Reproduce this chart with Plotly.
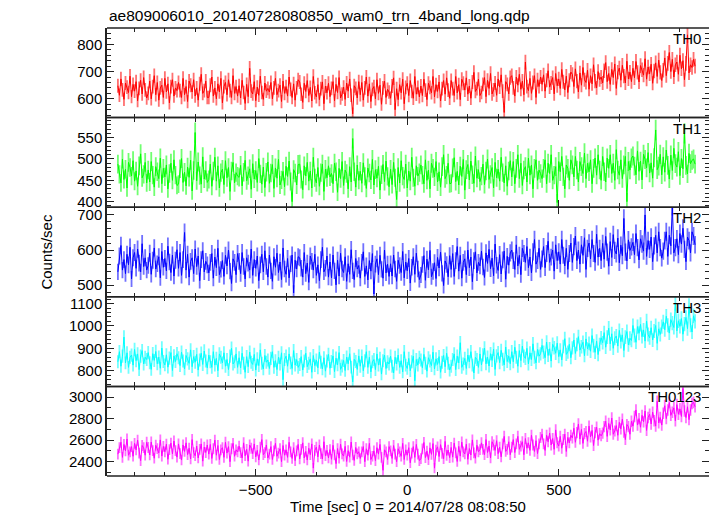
import numpy as np
import plotly.graph_objects as go
from plotly.subplots import make_subplots

title_text = "ae809006010_20140728080850_wam0_trn_4band_long.qdp"
band_names = ["TH0", "TH1", "TH2", "TH3", "TH0123"]
band_colors = ["#ff0000", "#00ff00", "#0000ff", "#00ffff", "#ff00ff"]
err_colors = ["#ff7070", "#70ff70", "#7070ff", "#70ffff", "#ff70ff"]

t_start = -955
bin_width = 5
n_bins = 382
time_s = t_start + bin_width * np.arange(n_bins)

th0 = [
    648, 613, 673, 633, 598, 658, 643, 623, 683, 608, 653, 628, 663, 593, 638, 668, 618, 678, 633, 603,
    620, 665, 600, 645, 685, 615, 660, 595, 640, 650, 605, 675, 625, 655, 585, 645, 670, 610, 640, 630,
    660, 630, 605, 675, 615, 645, 590, 665, 650, 625, 670, 610, 640, 595, 655, 690, 620, 630, 665, 605,
    605, 650, 680, 610, 640, 600, 655, 625, 675, 585, 645, 660, 615, 670, 630, 605, 685, 620, 645, 610,
    648, 603, 668, 623, 583, 653, 608, 712, 628, 618, 663, 593, 643, 613, 683, 623, 598, 658, 628, 638,
    625, 660, 600, 640, 675, 615, 630, 650, 590, 665, 620, 645, 610, 680, 635, 605, 655, 595, 640, 670,
    662, 617, 587, 657, 627, 667, 612, 642, 592, 682, 622, 607, 652, 597, 637, 662, 582, 647, 622, 657,
    608, 638, 663, 593, 653, 623, 678, 603, 618, 643, 598, 658, 628, 673, 613, 545, 648, 638, 603, 663,
    615, 660, 595, 640, 680, 610, 655, 590, 635, 645, 600, 670, 620, 650, 580, 640, 665, 605, 635, 625,
    602, 647, 677, 560, 637, 597, 652, 622, 672, 582, 642, 657, 612, 667, 627, 602, 682, 617, 642, 607,
    647, 612, 672, 632, 597, 657, 642, 622, 682, 607, 652, 627, 662, 592, 637, 667, 617, 677, 632, 602,
    667, 637, 612, 682, 622, 652, 597, 672, 657, 632, 677, 617, 647, 602, 662, 697, 627, 637, 672, 612,
    623, 653, 678, 608, 668, 638, 693, 618, 633, 658, 613, 673, 643, 688, 628, 550, 663, 653, 618, 678,
    685, 640, 610, 680, 650, 690, 635, 665, 615, 735, 645, 630, 675, 620, 660, 685, 605, 670, 645, 680,
    653, 688, 628, 668, 703, 643, 658, 678, 618, 693, 648, 673, 638, 708, 663, 633, 683, 623, 668, 698,
    690, 645, 710, 665, 625, 695, 650, 715, 670, 660, 705, 635, 685, 655, 725, 665, 640, 700, 670, 680,
    658, 703, 733, 663, 693, 653, 708, 678, 728, 638, 698, 713, 668, 723, 683, 658, 738, 673, 698, 663,
    712, 677, 737, 697, 662, 722, 707, 687, 747, 672, 717, 692, 727, 657, 702, 732, 682, 742, 697, 667,
    705, 750, 685, 730, 770, 700, 745, 680, 725, 735, 690, 760, 710, 740, 670, 730, 835, 695, 725, 715,
    745, 720,
]
th1 = [
    488, 464, 444, 500, 452, 476, 432, 492, 480, 460, 496, 448, 472, 436, 484, 512, 456, 464, 492, 444,
    474, 446, 494, 462, 434, 482, 470, 454, 502, 442, 478, 458, 486, 430, 466, 490, 450, 498, 462, 438,
    441, 477, 501, 445, 469, 437, 481, 457, 497, 425, 473, 562, 449, 493, 461, 441, 505, 453, 473, 445,
    452, 488, 436, 472, 504, 448, 484, 432, 468, 476, 440, 496, 456, 480, 424, 472, 492, 444, 468, 460,
    457, 485, 437, 469, 497, 449, 461, 477, 429, 489, 453, 473, 445, 501, 465, 441, 481, 433, 469, 493,
    443, 467, 487, 431, 479, 455, 499, 439, 451, 471, 435, 483, 459, 495, 447, 400, 475, 467, 439, 487,
    488, 452, 428, 484, 460, 492, 448, 472, 432, 504, 456, 444, 480, 436, 468, 488, 424, 476, 456, 484,
    458, 466, 442, 490, 470, 422, 478, 454, 494, 438, 474, 466, 430, 482, 446, 548, 470, 434, 486, 450,
    471, 443, 491, 459, 431, 479, 467, 451, 499, 439, 475, 455, 483, 427, 463, 487, 447, 495, 459, 435,
    476, 440, 492, 456, 405, 480, 444, 496, 460, 452, 488, 432, 472, 448, 504, 456, 436, 484, 460, 468,
    486, 462, 442, 498, 450, 474, 430, 490, 478, 458, 494, 446, 470, 434, 482, 510, 454, 462, 490, 442,
    443, 479, 503, 447, 471, 439, 483, 459, 499, 427, 475, 487, 451, 495, 463, 443, 507, 455, 475, 447,
    460, 488, 440, 472, 500, 452, 464, 480, 432, 492, 456, 476, 448, 504, 468, 444, 484, 436, 472, 496,
    458, 494, 442, 478, 510, 454, 490, 438, 474, 482, 446, 502, 462, 486, 430, 478, 498, 450, 474, 466,
    454, 478, 498, 442, 490, 466, 510, 450, 462, 482, 398, 494, 470, 506, 458, 430, 486, 478, 450, 498,
    486, 458, 506, 474, 446, 494, 482, 466, 514, 454, 490, 470, 498, 442, 478, 502, 462, 510, 474, 450,
    506, 470, 446, 502, 478, 510, 466, 490, 450, 522, 474, 462, 498, 454, 486, 506, 400, 494, 474, 502,
    507, 483, 463, 519, 471, 495, 451, 511, 499, 479, 515, 467, 491, 455, 503, 568, 475, 483, 511, 463,
    505, 469, 521, 485, 453, 509, 473, 525, 489, 481, 517, 461, 501, 477, 560, 485, 465, 513, 489, 497,
    500, 488,
]
th2 = [
    538, 583, 613, 543, 573, 533, 588, 558, 608, 518, 578, 593, 548, 603, 563, 538, 618, 553, 578, 543,
    556, 591, 531, 571, 606, 546, 561, 581, 521, 596, 551, 576, 541, 611, 566, 536, 586, 526, 571, 601,
    548, 593, 528, 573, 650, 543, 588, 523, 568, 578, 533, 603, 553, 583, 513, 573, 598, 538, 568, 558,
    535, 565, 590, 520, 580, 550, 605, 530, 545, 570, 525, 585, 555, 600, 540, 505, 575, 565, 530, 590,
    568, 533, 593, 553, 518, 578, 563, 543, 603, 528, 573, 548, 583, 513, 558, 588, 538, 598, 553, 523,
    586, 541, 511, 581, 551, 591, 536, 566, 516, 606, 546, 531, 576, 521, 561, 586, 478, 571, 546, 581,
    578, 548, 523, 593, 533, 563, 508, 583, 568, 543, 588, 528, 558, 513, 573, 608, 538, 548, 583, 523,
    566, 521, 586, 541, 501, 571, 526, 591, 546, 536, 581, 511, 561, 531, 601, 541, 516, 576, 546, 556,
    520, 565, 595, 525, 555, 515, 570, 540, 590, 475, 560, 575, 530, 585, 545, 520, 600, 535, 560, 525,
    561, 526, 586, 546, 511, 571, 556, 536, 596, 521, 566, 541, 576, 506, 551, 581, 531, 591, 546, 516,
    529, 559, 584, 514, 574, 544, 599, 524, 539, 564, 519, 579, 549, 594, 534, 499, 569, 559, 524, 584,
    545, 590, 525, 570, 610, 540, 585, 520, 565, 575, 530, 600, 550, 580, 510, 570, 595, 535, 565, 555,
    597, 552, 522, 592, 562, 602, 547, 577, 527, 617, 557, 542, 587, 532, 572, 597, 517, 582, 557, 592,
    600, 570, 545, 615, 555, 585, 530, 605, 590, 565, 610, 550, 580, 535, 595, 630, 560, 570, 605, 545,
    575, 610, 550, 590, 625, 565, 580, 600, 540, 615, 570, 595, 560, 630, 585, 555, 605, 545, 590, 620,
    565, 610, 640, 570, 600, 560, 615, 585, 635, 545, 605, 620, 575, 630, 590, 565, 645, 580, 605, 570,
    619, 574, 639, 594, 554, 624, 579, 644, 599, 589, 634, 564, 614, 584, 690, 594, 569, 629, 599, 609,
    622, 587, 647, 607, 572, 632, 617, 597, 700, 582, 627, 602, 637, 567, 612, 642, 592, 652, 607, 577,
    597, 627, 652, 582, 642, 612, 725, 592, 607, 632, 587, 647, 617, 662, 602, 567, 637, 627, 592, 652,
    640, 615,
]
th3 = [
    840, 885, 820, 865, 950, 835, 880, 815, 860, 870, 825, 895, 845, 875, 805, 865, 890, 830, 860, 850,
    881, 836, 806, 876, 846, 886, 831, 861, 811, 901, 841, 826, 871, 816, 856, 881, 801, 866, 841, 876,
    858, 823, 883, 843, 808, 868, 853, 833, 893, 818, 863, 838, 873, 803, 848, 878, 828, 888, 843, 813,
    870, 840, 815, 885, 825, 855, 800, 875, 860, 835, 880, 820, 850, 805, 865, 900, 830, 840, 875, 815,
    858, 813, 878, 833, 793, 863, 818, 883, 838, 828, 873, 803, 853, 823, 893, 833, 808, 868, 838, 848,
    810, 855, 885, 815, 845, 805, 860, 830, 880, 760, 850, 865, 820, 875, 835, 810, 890, 825, 850, 815,
    828, 863, 803, 843, 878, 818, 833, 853, 793, 868, 823, 848, 813, 883, 838, 808, 858, 798, 843, 873,
    811, 841, 866, 796, 856, 826, 881, 806, 821, 846, 801, 861, 831, 876, 816, 750, 851, 841, 806, 866,
    820, 865, 800, 845, 885, 815, 860, 795, 840, 850, 805, 875, 825, 855, 785, 845, 870, 810, 840, 830,
    865, 820, 790, 860, 830, 870, 815, 845, 795, 885, 825, 810, 855, 800, 840, 865, 755, 850, 825, 860,
    848, 813, 873, 833, 798, 858, 843, 823, 883, 808, 853, 828, 863, 793, 838, 868, 818, 878, 833, 803,
    820, 850, 875, 805, 865, 835, 925, 815, 830, 855, 810, 870, 840, 885, 825, 790, 860, 850, 815, 875,
    826, 871, 901, 831, 861, 821, 876, 846, 896, 806, 866, 881, 836, 891, 851, 826, 906, 841, 866, 831,
    885, 840, 905, 860, 820, 890, 845, 910, 865, 855, 900, 830, 880, 850, 920, 860, 835, 895, 865, 875,
    913, 883, 858, 928, 868, 898, 843, 918, 903, 878, 923, 863, 893, 848, 908, 943, 873, 883, 918, 858,
    902, 937, 877, 917, 952, 892, 907, 927, 867, 942, 897, 922, 887, 957, 912, 882, 932, 872, 917, 947,
    925, 970, 905, 950, 990, 920, 965, 900, 945, 955, 910, 980, 930, 960, 890, 950, 975, 915, 945, 935,
    1002, 957, 927, 997, 967, 1007, 952, 982, 932, 1022, 962, 947, 992, 937, 977, 1002, 922, 987, 962, 997,
    1018, 983, 1043, 1003, 968, 1028, 1013, 993, 1100, 978, 1023, 998, 1033, 963, 1008, 1038, 988, 1090, 1003, 973,
    1045, 1020,
]
th0123 = [
    2470, 2530, 2580, 2440, 2560, 2500, 2610, 2460, 2490, 2540, 2450, 2570, 2510, 2600, 2480, 2410, 2550, 2530, 2460, 2580,
    2532, 2462, 2582, 2502, 2432, 2552, 2522, 2482, 2602, 2452, 2542, 2492, 2562, 2422, 2512, 2572, 2472, 2592, 2502, 2442,
    2565, 2475, 2415, 2555, 2495, 2575, 2465, 2525, 2425, 2605, 2485, 2455, 2545, 2435, 2515, 2565, 2405, 2535, 2485, 2555,
    2470, 2560, 2430, 2520, 2600, 2460, 2550, 2420, 2510, 2530, 2440, 2580, 2480, 2540, 2400, 2520, 2570, 2450, 2510, 2490,
    2545, 2485, 2435, 2575, 2455, 2515, 2405, 2555, 2525, 2475, 2565, 2445, 2505, 2415, 2535, 2605, 2465, 2485, 2555, 2435,
    2470, 2540, 2420, 2500, 2570, 2450, 2480, 2520, 2400, 2550, 2460, 2510, 2440, 2580, 2490, 2430, 2530, 2410, 2500, 2560,
    2425, 2515, 2575, 2435, 2495, 2415, 2525, 2465, 2565, 2340, 2505, 2535, 2445, 2555, 2475, 2425, 2585, 2455, 2505, 2435,
    2512, 2422, 2552, 2462, 2382, 2522, 2432, 2562, 2472, 2452, 2542, 2402, 2502, 2442, 2582, 2462, 2412, 2532, 2472, 2492,
    2430, 2490, 2540, 2400, 2520, 2460, 2570, 2420, 2450, 2500, 2410, 2530, 2470, 2560, 2440, 2320, 2510, 2490, 2420, 2540,
    2500, 2430, 2550, 2470, 2400, 2520, 2490, 2450, 2570, 2420, 2510, 2460, 2530, 2390, 2480, 2540, 2440, 2560, 2470, 2410,
    2428, 2518, 2578, 2438, 2498, 2418, 2528, 2468, 2568, 2340, 2508, 2538, 2448, 2558, 2478, 2428, 2588, 2458, 2508, 2438,
    2532, 2442, 2572, 2482, 2402, 2542, 2452, 2582, 2492, 2472, 2562, 2422, 2522, 2462, 2602, 2482, 2432, 2552, 2492, 2512,
    2575, 2515, 2465, 2605, 2485, 2545, 2435, 2585, 2555, 2505, 2595, 2475, 2535, 2445, 2565, 2635, 2495, 2515, 2585, 2465,
    2535, 2605, 2485, 2565, 2635, 2515, 2545, 2585, 2465, 2615, 2525, 2575, 2505, 2645, 2555, 2495, 2595, 2475, 2565, 2625,
    2655, 2565, 2505, 2645, 2585, 2665, 2555, 2615, 2515, 2695, 2575, 2545, 2635, 2525, 2605, 2655, 2495, 2625, 2575, 2645,
    2620, 2710, 2580, 2670, 2750, 2610, 2700, 2570, 2660, 2680, 2590, 2730, 2630, 2690, 2550, 2670, 2720, 2600, 2660, 2640,
    2665, 2725, 2775, 2635, 2755, 2695, 2805, 2655, 2685, 2735, 2645, 2765, 2705, 2795, 2675, 2605, 2745, 2725, 2655, 2775,
    2730, 2820, 2880, 2740, 2800, 2720, 2830, 2770, 2870, 2690, 2810, 2840, 2750, 2860, 2780, 2730, 2960, 2760, 2810, 2740,
    2850, 2920, 2800, 2880, 2950, 2830, 2860, 2900, 2780, 2930, 2840, 2890, 2820, 3080, 2870, 2810, 2910, 2790, 2880, 2940,
    2950, 2910,
]
series = [th0, th1, th2, th3, th0123]

x_range = [-991, 996]
y_ranges = [[531, 860], [387, 597], [467, 722], [730, 1130], [2267, 3099]]
y_dticks = [100, 50, 100, 100, 200]
y_minor = [20, 10, 20, 20, 100]

FONT = "Liberation Sans, Arial, Helvetica, sans-serif"
AXC = "#222222"

fig = make_subplots(rows=5, cols=1, shared_xaxes=False, vertical_spacing=0)

for i, (vals, col) in enumerate(zip(series, band_colors)):
    fig.add_trace(
        go.Scatter(
            x=time_s, y=vals, mode="lines",
            line=dict(color=col, width=1),
            error_y=dict(type="sqrt", color=err_colors[i], thickness=1.8, width=0),
            showlegend=False, hoverinfo="skip",
        ),
        row=i + 1, col=1,
    )
    fig.update_yaxes(
        range=y_ranges[i], dtick=y_dticks[i], tick0=0,
        ticks="inside", ticklen=7, tickwidth=1, tickcolor=AXC,
        minor=dict(dtick=y_minor[i], tick0=0, ticks="inside", ticklen=4, tickcolor=AXC),
        showline=True, linecolor=AXC, linewidth=1.5, mirror="ticks",
        showgrid=False, zeroline=False,
        tickfont=dict(family=FONT, size=15, color="black"),
        row=i + 1, col=1,
    )
    fig.update_xaxes(
        range=x_range, dtick=500, tick0=0,
        ticks="inside", ticklen=7, tickwidth=1, tickcolor=AXC,
        minor=dict(dtick=100, tick0=0, ticks="inside", ticklen=4, tickcolor=AXC),
        showline=True, linecolor="rgba(0,0,0,0)", linewidth=1, mirror="ticks",
        showgrid=False, zeroline=False,
        showticklabels=(i == 4),
        tickfont=dict(family=FONT, size=15, color="black"),
        row=i + 1, col=1,
    )
    ax_suffix = "" if i == 0 else str(i + 1)
    # horizontal frame edges of this panel
    for edge in (0, 1):
        fig.add_shape(
            type="line", xref=f"x{ax_suffix} domain", yref=f"y{ax_suffix} domain",
            x0=0, x1=1, y0=edge, y1=edge, line=dict(color=AXC, width=1.5),
        )
    fig.add_annotation(
        text=band_names[i], xref=f"x{ax_suffix} domain", yref=f"y{ax_suffix} domain",
        x=0.9905, y=1.0, xanchor="right", yanchor="top", showarrow=False,
        font=dict(family=FONT, size=15, color="black"),
    )

fig.add_annotation(
    text=title_text, xref="paper", yref="paper", x=0, y=1.029,
    xanchor="left", yanchor="middle", showarrow=False,
    font=dict(family=FONT, size=15.5, color="black"),
)
fig.add_annotation(
    text="Counts/sec", xref="paper", yref="paper", x=-0.102, y=0.5,
    xanchor="center", yanchor="middle", textangle=-90, showarrow=False,
    font=dict(family=FONT, size=15, color="black"),
)
fig.add_annotation(
    text="Time [sec] 0 = 2014/07/28 08:08:50", xref="paper", yref="paper",
    x=0.5, y=-0.069, xanchor="center", yanchor="middle", showarrow=False,
    font=dict(family=FONT, size=15, color="black"),
)

# the page body adds an 8px margin; size the figure so the plot lands in place
fig.update_layout(
    width=709, height=508,
    margin=dict(l=99, r=6, t=20, b=40),
    paper_bgcolor="white", plot_bgcolor="white",
)

fig.write_html("out.html")
